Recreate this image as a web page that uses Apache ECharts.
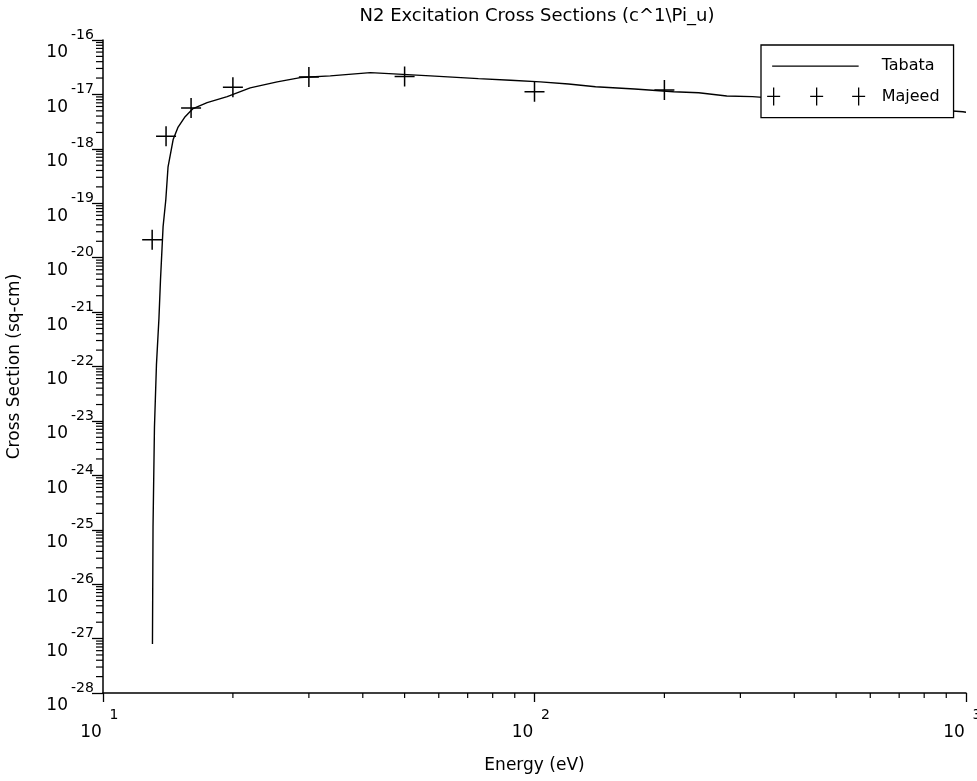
<!DOCTYPE html>
<html>
<head>
<meta charset="utf-8">
<script src="https://cdn.jsdelivr.net/npm/echarts@6/dist/echarts.min.js"></script>
<style>html,body{margin:0;padding:0;background:#fff;}#c{width:977px;height:781px;}</style>
</head>
<body>
<div id="c"></div>
<script>
// Tabata fit curve (energy in eV, cross section in cm^2)
const tabataEnergy = [13.02, 13.06, 13.16, 13.30, 13.48, 13.59, 13.78, 13.98, 14.15, 14.54, 14.93, 15.50, 16.17, 17.43, 19.40, 21.93, 25.33, 28.65, 33.63, 41.65, 57.4, 74.1, 88.0, 103.2, 119.9, 138.5, 170.6, 210.1, 240.2, 279, 320, 984, 1000];
const tabataSigma = [7.94e-28, 1.12e-25, 7.76e-24, 1.07e-22, 7.76e-22, 3.89e-21, 3.72e-20, 1.15e-19, 4.68e-19, 1.48e-18, 2.51e-18, 3.89e-18, 5.50e-18, 7.08e-18, 9.12e-18, 1.32e-17, 1.70e-17, 2.04e-17, 2.19e-17, 2.51e-17, 2.19e-17, 1.95e-17, 1.82e-17, 1.70e-17, 1.55e-17, 1.38e-17, 1.26e-17, 1.12e-17, 1.07e-17, 9.33e-18, 9.12e-18, 4.79e-18, 4.70e-18];
// Majeed measured points
const majeedEnergy = [13, 14, 16, 20, 30, 50, 100, 200];
const majeedSigma = [2.14e-20, 1.70e-18, 5.62e-18, 1.35e-17, 2.09e-17, 2.14e-17, 1.12e-17, 1.20e-17];
// axis ranges (decades)
const xMinExp = 1, xMaxExp = 3;
const yMinExp = -28, yMaxExp = -16;
const seriesNames = ['Tabata', 'Majeed'];
const titleText = 'N2 Excitation Cross Sections (c^1\\Pi_u)';
const xName = 'Energy (eV)';
const yName = 'Cross Section (sq-cm)';

// The y axis is plotted in units of 1e-28 cm^2 (ECharts rounds tick values
// to 20 decimals, which would zero out a 1e-28 axis minimum); labels show true exponents.
const yUnit = Number('1e' + yMinExp);

// minor tick positions (2..9 x 10^n) for log axes
const yMinorTicks = [];
for (let e = yMinExp; e < yMaxExp; e++) for (let k = 2; k <= 9; k++) yMinorTicks.push(Number(k + 'e' + e));
const xMinorTicks = [];
for (let e = xMinExp; e < xMaxExp; e++) for (let k = 2; k <= 9; k++) xMinorTicks.push(Number(k + 'e' + e));

const FONT = 'DejaVu Sans';
const xMin = Math.pow(10, xMinExp), xMax = Math.pow(10, xMaxExp);
const yMin = 1, yMax = Math.pow(10, yMaxExp - yMinExp);

const chart = echarts.init(document.getElementById('c'), null, {renderer: 'canvas'});
const expOf = v => Math.round(Math.log10(v));
const plusPath = 'path://M0,10 L20,10 M10,0 L10,20';

chart.setOption({
  animation: false,
  backgroundColor: '#fff',
  title: {
    text: titleText, left: 537, top: 6, padding: 0, textAlign: 'center',
    textStyle: {fontFamily: FONT, fontSize: 18, fontWeight: 'normal', color: '#000', lineHeight: 20}
  },
  grid: {left: 103, right: 11, top: 40, bottom: 88, containLabel: false, outerBoundsMode: 'none'},
  legend: {
    orient: 'vertical', left: 761, top: 45,
    padding: [11.5, 14, 11.5, 5],
    itemWidth: 100, itemHeight: 18, itemGap: 11,
    backgroundColor: '#fff', borderColor: '#000', borderWidth: 1.3, borderRadius: 0,
    selectedMode: false,
    textStyle: {fontFamily: FONT, fontSize: 16, color: '#000', lineHeight: 18, padding: [0, 0, 0, 10]},
    data: [
      {name: seriesNames[0], icon: 'path://M0,0 M5.5,9 L92,9 M100,18',
       itemStyle: {color: 'transparent', borderColor: '#000', borderWidth: 1.3}},
      {name: seriesNames[1], icon: 'path://M0,0 M0.5,9 L13.5,9 M7,0 L7,18 M43.5,9 L56.5,9 M50,0 L50,18 M85.5,9 L98.5,9 M92,0 L92,18 M100,18',
       itemStyle: {color: 'transparent', borderColor: '#000', borderWidth: 1.3}}
    ]
  },
  xAxis: {
    type: 'log', logBase: 10, min: xMin, max: xMax, interval: 1,
    name: xName, nameLocation: 'middle', nameGap: 64, nameMoveOverlap: false,
    nameTextStyle: {fontFamily: FONT, fontSize: 17, color: '#000'},
    axisLine: {lineStyle: {color: '#000', width: 1.5}},
    axisTick: {show: true, inside: false, length: 9, lineStyle: {color: '#000', width: 1.3}},
    splitLine: {show: false},
    axisLabel: {
      margin: 13, color: '#000', fontFamily: FONT, showMinLabel: true, showMaxLabel: true, hideOverlap: false,
      formatter: v => '{sp| }{e|' + expOf(v) + '}\n{b|10}{sp2| }',
      rich: {
        sp: {width: 22, lineHeight: 18},
        e: {width: 26, align: 'left', fontSize: 14, lineHeight: 18, fontFamily: FONT, color: '#000'},
        b: {width: 24, align: 'right', fontSize: 17, lineHeight: 18, fontFamily: FONT, color: '#000'},
        sp2: {width: 24, lineHeight: 18}
      }
    }
  },
  yAxis: {
    type: 'log', logBase: 10, min: yMin, max: yMax, interval: 1,
    name: yName, nameLocation: 'middle', nameGap: 80, nameRotate: 90, nameMoveOverlap: false,
    nameTextStyle: {fontFamily: FONT, fontSize: 17, color: '#000'},
    axisLine: {lineStyle: {color: '#000', width: 1.5}},
    axisTick: {show: true, inside: false, length: 11, lineStyle: {color: '#000', width: 1.3}},
    splitLine: {show: false},
    axisLabel: {
      margin: 8, color: '#000', fontFamily: FONT, padding: [8, 0, 0, 0], showMinLabel: true, showMaxLabel: true, hideOverlap: false,
      formatter: v => '{sp| }{e|' + (expOf(v) + yMinExp) + '}\n{b|10}{sp2| }',
      rich: {
        sp: {width: 25, lineHeight: 18},
        e: {width: 25, align: 'left', fontSize: 14, lineHeight: 18, fontFamily: FONT, color: '#000'},
        b: {width: 23, align: 'right', fontSize: 17, lineHeight: 18, fontFamily: FONT, color: '#000'},
        sp2: {width: 27, lineHeight: 18}
      }
    }
  },
  series: [
    {
      name: seriesNames[0], type: 'line', showSymbol: false, symbol: 'none',
      data: tabataEnergy.map((e, i) => [e, tabataSigma[i] / yUnit]),
      lineStyle: {color: '#000', width: 1.4}, itemStyle: {color: '#000'}, z: 2
    },
    {
      name: seriesNames[1], type: 'scatter', symbol: plusPath, symbolSize: 20,
      data: majeedEnergy.map((e, i) => [e, majeedSigma[i] / yUnit]),
      itemStyle: {color: 'transparent', borderColor: '#000', borderWidth: 1.5, opacity: 1}, z: 3
    },
    {
      name: 'yMinor', type: 'custom', clip: false, silent: true,
      data: yMinorTicks.map(v => [xMin, v / yUnit]),
      renderItem: (params, api) => {
        const p = api.coord([api.value(0), api.value(1)]);
        return {type: 'line', shape: {x1: p[0] - 7, y1: p[1], x2: p[0], y2: p[1]},
                style: {stroke: '#000', lineWidth: 1.2}};
      }
    },
    {
      name: 'xMinor', type: 'custom', clip: false, silent: true,
      data: xMinorTicks.map(v => [v, yMin]),
      renderItem: (params, api) => {
        const p = api.coord([api.value(0), api.value(1)]);
        return {type: 'line', shape: {x1: p[0], y1: p[1], x2: p[0], y2: p[1] + 5},
                style: {stroke: '#000', lineWidth: 1.2}};
      }
    }
  ]
});
</script>
</body>
</html>
